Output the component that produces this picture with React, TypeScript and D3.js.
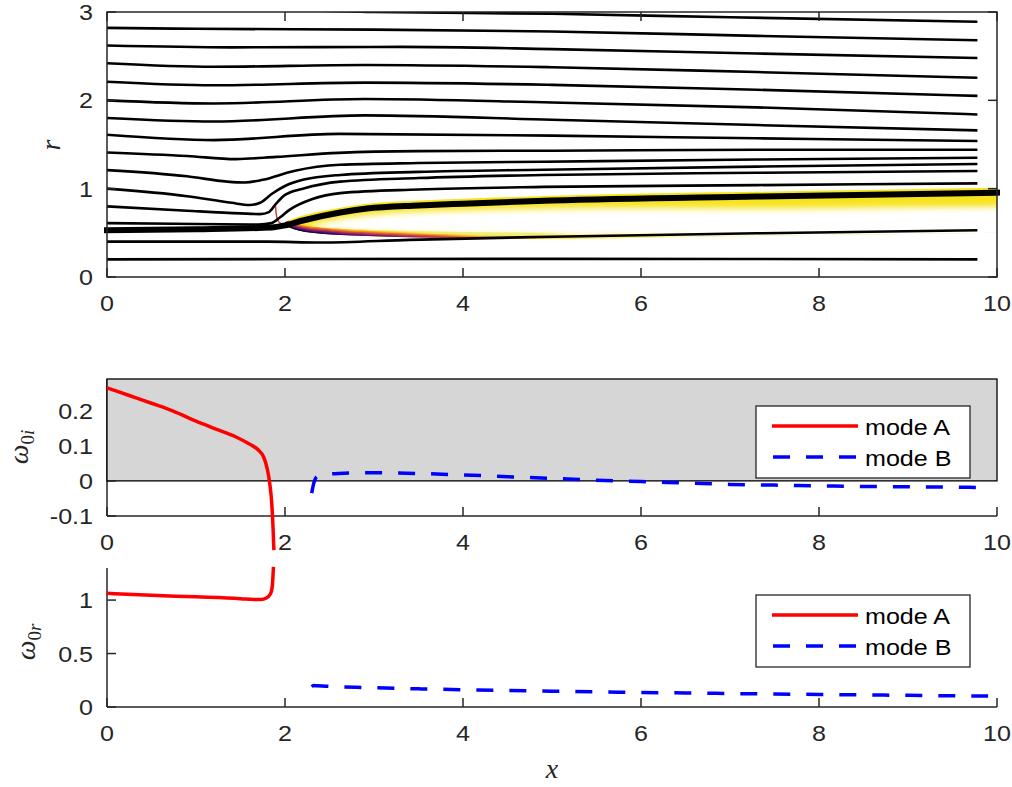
import React from "react";
import * as d3 from "d3";

const W = 1012, H = 787;

const xTicks = [0, 2, 4, 6, 8, 10];
const rTicks = [0, 1, 2, 3];
const wiTicks = [-0.1, 0, 0.1, 0.2];
const wiTickLabels = ["-0.1", "0", "0.1", "0.2"];
const wrTicks = [0, 0.5, 1];
const wrTickLabels = ["0", "0.5", "1"];
const legendLabels = ["mode A", "mode B"];

// streamlines [x, r]
const streamlines: [number, number][][] = [
  [[0, 3.02], [2, 3.02], [3, 3.0], [5, 2.98], [7, 2.94], [9.78, 2.89]],
  [[0, 2.82], [1, 2.81], [3, 2.8], [5, 2.78], [7.3, 2.73], [9.78, 2.68]],
  [[0, 2.62], [1.4, 2.6], [3.3, 2.605], [5, 2.58], [7.3, 2.53], [9.78, 2.48]],
  [[0, 2.42], [1.2, 2.38], [2.9, 2.4], [5, 2.375], [7.3, 2.32], [9.78, 2.255]],
  [[0, 2.21], [1.2, 2.17], [2.9, 2.2], [5, 2.175], [7.3, 2.12], [9.78, 2.05]],
  [[0, 2.0], [1.2, 1.965], [2.9, 2.015], [5, 1.975], [7.3, 1.92], [9.78, 1.84]],
  [[0, 1.8], [1.2, 1.76], [2.9, 1.83], [5, 1.78], [7.3, 1.72], [9.78, 1.66]],
  [[0, 1.61], [1.2, 1.55], [2.6, 1.62], [5, 1.6], [7.3, 1.57], [9.78, 1.54]],
  [[0, 1.41], [0.9, 1.37], [1.45, 1.335], [1.9, 1.36], [2.6, 1.405], [3.5, 1.425], [5, 1.43], [7.3, 1.44], [9.78, 1.44]],
  [[0, 1.21], [0.9, 1.14], [1.35, 1.08], [1.55, 1.07], [1.75, 1.1], [2.1, 1.2], [2.62, 1.27], [3.5, 1.29], [4.9, 1.305], [7.3, 1.33], [9.78, 1.35]],
  [[0, 1.0], [0.9, 0.915], [1.4, 0.84], [1.6, 0.815], [1.72, 0.84], [1.85, 0.94], [2.0, 1.03], [2.2, 1.1], [2.62, 1.155], [3.5, 1.19], [4.9, 1.215], [7.3, 1.25], [9.78, 1.28]],
  [[0, 0.8], [0.9, 0.75], [1.5, 0.72], [1.72, 0.712], [1.82, 0.735], [1.9, 0.83], [2.0, 0.93], [2.2, 1.0], [2.62, 1.08], [3.5, 1.12], [4.9, 1.155], [7.3, 1.18], [9.78, 1.2]],
  [[0, 0.61], [1.0, 0.6], [1.7, 0.595], [1.85, 0.61], [1.95, 0.68], [2.05, 0.76], [2.3, 0.88], [2.62, 0.95], [3.5, 0.99], [4.9, 1.02], [7.3, 1.04], [9.78, 1.06]],
  [[0, 0.4], [1.8, 0.4], [2.4, 0.39], [3.4, 0.42], [5, 0.456], [7.3, 0.495], [9.78, 0.53]],
  [[0, 0.2], [5, 0.205], [9.78, 0.2]],
];
const shearLayer: [number, number][] = [
  [0, 0.53], [1.0, 0.54], [1.85, 0.56], [2.0, 0.585], [2.2, 0.64], [2.62, 0.73], [2.92, 0.775], [3.5, 0.81], [4, 0.83], [5, 0.865], [7.3, 0.91], [10, 0.955],
];
const sliver: [number, number][] = [[1.895, 0.8], [1.9, 0.72], [1.92, 0.64], [1.96, 0.6]];

// coloured field envelope
const fieldX = [2.0, 2.1, 2.2, 2.4, 2.62, 2.92, 3.4, 4, 5, 6, 7.3, 8.5, 10];
const fieldTop = [0.62, 0.665, 0.695, 0.745, 0.785, 0.83, 0.86, 0.885, 0.92, 0.945, 0.965, 0.985, 1.01];
const fieldBottom = [0.59, 0.54, 0.515, 0.49, 0.475, 0.463, 0.45, 0.438, 0.43, 0.445, 0.465, 0.48, 0.5];
const coreX = [2.28, 2.45, 2.62, 2.92, 3.4, 4, 5, 6, 7.3, 8.5, 10.2];
const coreTop = [0.585, 0.625, 0.66, 0.7, 0.735, 0.755, 0.775, 0.78, 0.775, 0.785, 0.8];
const coreBottom = [0.56, 0.535, 0.52, 0.505, 0.49, 0.478, 0.465, 0.455, 0.43, 0.4, 0.4];

// growth rates
const modeAx = [0, 0.25, 0.5, 0.75, 1.0, 1.25, 1.45, 1.6, 1.7, 1.76, 1.8, 1.83, 1.85, 1.865, 1.875];
const modeAwi = [0.265, 0.243, 0.221, 0.198, 0.17, 0.145, 0.125, 0.105, 0.088, 0.068, 0.035, -0.01, -0.06, -0.13, -0.197];
const modeArx = [0, 0.5, 1.0, 1.5, 1.65, 1.73, 1.79, 1.83, 1.85, 1.862, 1.87];
const modeAwr = [1.063, 1.045, 1.03, 1.013, 1.005, 1.006, 1.02, 1.05, 1.09, 1.18, 1.31];
const modeBx = [2.3, 2.32, 2.36, 2.45, 2.6, 2.8, 3.0, 3.5, 4.0, 4.5, 5.0, 5.5, 6.0, 6.5, 7.0, 7.5, 8.0, 8.5, 9.0, 9.5, 9.9];
const modeBwi = [-0.035, -0.01, 0.012, 0.018, 0.021, 0.023, 0.023, 0.021, 0.017, 0.012, 0.007, 0.002, -0.002, -0.006, -0.01, -0.012, -0.014, -0.016, -0.017, -0.018, -0.019];
const modeBwr = [0.19, 0.2, 0.198, 0.195, 0.19, 0.185, 0.18, 0.17, 0.162, 0.155, 0.148, 0.142, 0.136, 0.131, 0.126, 0.121, 0.117, 0.113, 0.109, 0.105, 0.102];

const X0 = 107, X1 = 997;
const x = d3.scaleLinear().domain([0, 10]).range([X0, X1]);
const yR = d3.scaleLinear().domain([0, 3]).range([277, 12]);
const yWi = d3.scaleLinear().domain([-0.1, 0.29]).range([516, 379]);
const yWr = d3.scaleLinear().domain([0, 1.3]).range([707, 568]);

const AX = "#262626";
const FONT = "'Liberation Sans', Arial, Helvetica, sans-serif";
const SERIF = "'Liberation Serif', 'DejaVu Serif', serif";
const TL = 9;
const FS = 22;
const STRETCH = 1.14;

const fringeStopsX = [2.0, 2.5, 3.0, 3.6, 4.2, 4.8, 5.2];
const fringeBaseT = [0.05, 0.15, 0.3, 0.45, 0.62, 0.8, 0.9];

function T({ x: tx, y: ty, anchor = "start", fill = AX, children }: any) {
  return (
    <text transform={`translate(${tx},${ty}) scale(${STRETCH},1)`} textAnchor={anchor} fontFamily={FONT} fontSize={FS} fill={fill}>
      {children}
    </text>
  );
}

export default function App() {
  const lineXY = d3.line<[number, number]>().x(d => x(d[0])).y(d => yR(d[1])).curve(d3.curveMonotoneX);
  const fieldData = fieldX.map((v, i) => ({ x: v, t: fieldTop[i], b: fieldBottom[i] }));
  const fieldArea = d3.area<any>().x(d => x(d.x)).y0(d => yR(d.b)).y1(d => yR(d.t)).curve(d3.curveMonotoneX)(fieldData) as string;
  const coreData = coreX.map((v, i) => ({ x: v, t: coreTop[i], b: coreBottom[i] }));
  const coreArea = d3.area<any>().x(d => x(d.x)).y0(d => yR(d.b)).y1(d => yR(d.t)).curve(d3.curveCatmullRom)(coreData) as string;
  const fringeLine = (k: number) =>
    d3.line<any>().x(d => x(d.x)).y(d => yR(d.b + k * 0.014)).curve(d3.curveMonotoneX)(fieldData.filter(d => d.x <= 6)) as string;

  const mkLine = (xs: number[], ys: number[], ys2: d3.ScaleLinear<number, number>) =>
    d3.line<number>().x((_, i) => x(xs[i])).y(v => ys2(v)).curve(d3.curveMonotoneX)(ys) as string;

  const xTickLabels = (axisY: number) =>
    xTicks.map(t => <T key={"xl" + t} x={x(t)} y={axisY + 34} anchor="middle">{t}</T>);
  const xTickMarks = (axisY: number, dir: number) =>
    xTicks.map(t => <line key={"xt" + axisY + t} x1={x(t)} x2={x(t)} y1={axisY} y2={axisY + dir * TL} stroke={AX} strokeWidth={1.5} />);

  const legend = (top: number) => (
    <g>
      <rect x={756} y={top} width={214} height={72} fill="#fff" stroke={AX} strokeWidth={1.3} />
      <line x1={772} x2={858} y1={top + 20} y2={top + 20} stroke="#ff0000" strokeWidth={3.5} />
      <line x1={773} x2={858} y1={top + 51} y2={top + 51} stroke="#0000ff" strokeWidth={3.5} strokeDasharray="17,16" />
      <T x={865} y={top + 29} fill="#000">{legendLabels[0]}</T>
      <T x={865} y={top + 60} fill="#000">{legendLabels[1]}</T>
    </g>
  );

  return (
    <svg width={W} height={H} style={{ position: "absolute", left: 0, top: 0, background: "#fff" }}>
      <defs>
        <clipPath id="p1clip"><rect x={0} y={12} width={W} height={265} /></clipPath>
        <clipPath id="fieldClip"><path d={fieldArea} /></clipPath>
        <filter id="soft" x="-20%" y="-100%" width="140%" height="300%"><feGaussianBlur stdDeviation="3" /></filter>
        {[0, 1, 2, 3, 4].map(k => (
          <linearGradient key={k} id={"fr" + k} gradientUnits="userSpaceOnUse" x1={x(2)} x2={x(5.2)} y1={0} y2={0}>
            {fringeStopsX.map((fx, i) => (
              <stop key={i} offset={(fx - 2) / 3.2} stopColor={d3.interpolateInferno(Math.min(0.95, fringeBaseT[i] + k * 0.16))}
                stopOpacity={i === fringeStopsX.length - 1 ? 0 : 1} />
            ))}
          </linearGradient>
        ))}
      </defs>

      {/* ---------- panel 1 ---------- */}
      <g clipPath="url(#p1clip)">
        <path d={fieldArea} fill="#f7e31c" />
        <g clipPath="url(#fieldClip)">
          <path d={coreArea} fill="#ffffff" filter="url(#soft)" />
          {[4, 3, 2, 1, 0].map(k => (
            <path key={k} d={fringeLine(k)} fill="none" stroke={`url(#fr${k})`} strokeWidth={2.8} />
          ))}
        </g>
        <path d={lineXY(sliver) as string} fill="none" stroke={d3.interpolateInferno(0.55)} strokeWidth={1.5} />
        {streamlines.map((s, i) => (
          <path key={i} d={lineXY(s) as string} fill="none" stroke="#000" strokeWidth={2.6} />
        ))}
        <path d={lineXY(shearLayer) as string} fill="none" stroke="#000" strokeWidth={6} strokeLinecap="square" />
      </g>
      <rect x={X0} y={12} width={X1 - X0} height={265} fill="none" stroke={AX} strokeWidth={1.5} />
      {xTickMarks(277, -1)}
      {xTickMarks(12, 1)}
      {rTicks.map(t => (
        <g key={"r" + t}>
          <line x1={X0} x2={X0 + TL} y1={yR(t)} y2={yR(t)} stroke={AX} strokeWidth={1.5} />
          <line x1={X1} x2={X1 - TL} y1={yR(t)} y2={yR(t)} stroke={AX} strokeWidth={1.5} />
          <T x={93} y={yR(t) + 8} anchor="end">{t}</T>
        </g>
      ))}
      {xTickLabels(277)}
      <text transform={`translate(60,145) rotate(-90)`} textAnchor="middle" fontFamily={SERIF} fontStyle="italic" fontSize={28} fill={AX}>r</text>

      {/* ---------- panel 2 ---------- */}
      <line x1={X0} x2={X1} y1={516} y2={516} stroke={AX} strokeWidth={1.5} />
      <line x1={X0} x2={X0} y1={379} y2={516} stroke={AX} strokeWidth={1.5} />
      {xTickMarks(516, -1)}
      {wiTicks.map((t, i) => (
        <g key={"wi" + t}>
          <line x1={X0} x2={X0 + TL} y1={yWi(t)} y2={yWi(t)} stroke={AX} strokeWidth={1.5} />
          <T x={93} y={yWi(t) + 8} anchor="end">{wiTickLabels[i]}</T>
        </g>
      ))}
      <rect x={X0} y={yWi(0.29)} width={X1 - X0} height={yWi(0) - yWi(0.29)} fill="#d6d6d6" stroke="#000" strokeWidth={1.3} />
      {xTickLabels(516)}
      <path d={mkLine(modeAx, modeAwi, yWi)} fill="none" stroke="#ff0000" strokeWidth={3.5} />
      <path d={mkLine(modeBx, modeBwi, yWi)} fill="none" stroke="#0000ff" strokeWidth={3.5} strokeDasharray="17,16" />
      {legend(406)}
      <text transform={`translate(28,447) rotate(-90)`} textAnchor="middle" fontFamily={SERIF} fontStyle="italic" fontSize={28} fill={AX}>
        ω<tspan fontSize={19} dy={6} fontStyle="normal">0</tspan><tspan fontSize={19}>i</tspan>
      </text>

      {/* ---------- panel 3 ---------- */}
      <line x1={X0} x2={X1} y1={707} y2={707} stroke={AX} strokeWidth={1.5} />
      <line x1={X0} x2={X0} y1={568} y2={707} stroke={AX} strokeWidth={1.5} />
      {xTickMarks(707, -1)}
      {wrTicks.map((t, i) => (
        <g key={"wr" + t}>
          <line x1={X0} x2={X0 + TL} y1={yWr(t)} y2={yWr(t)} stroke={AX} strokeWidth={1.5} />
          <T x={93} y={yWr(t) + 8} anchor="end">{wrTickLabels[i]}</T>
        </g>
      ))}
      {xTickLabels(707)}
      <path d={mkLine(modeArx, modeAwr, yWr)} fill="none" stroke="#ff0000" strokeWidth={3.5} />
      <path d={mkLine(modeBx, modeBwr, yWr)} fill="none" stroke="#0000ff" strokeWidth={3.5} strokeDasharray="17,16" />
      {legend(595)}
      <text transform={`translate(35,642) rotate(-90)`} textAnchor="middle" fontFamily={SERIF} fontStyle="italic" fontSize={28} fill={AX}>
        ω<tspan fontSize={19} dy={6} fontStyle="normal">0</tspan><tspan fontSize={19}>r</tspan>
      </text>
      <text x={552} y={778} textAnchor="middle" fontFamily={SERIF} fontStyle="italic" fontSize={28} fill={AX}>x</text>
    </svg>
  );
}
